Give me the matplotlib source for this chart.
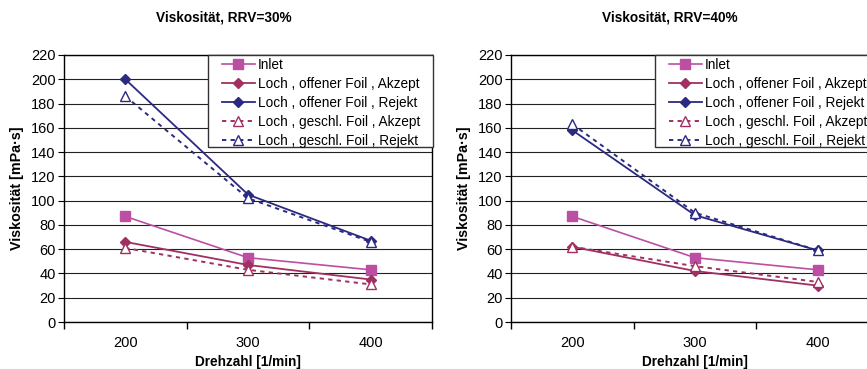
import numpy as np
import matplotlib.pyplot as plt
from matplotlib.patches import Rectangle

plt.rcParams["font.family"] = ["Liberation Sans", "DejaVu Sans"]

drehzahl = ["200", "300", "400"]

# RRV = 30 %
inlet_30 = [87, 53, 43]
offen_akzept_30 = [66, 47, 35]
offen_rejekt_30 = [200, 105, 67]
geschl_akzept_30 = [61, 43, 31]
geschl_rejekt_30 = [186, 102, 66]

# RRV = 40 %
inlet_40 = [87, 53, 43]
offen_akzept_40 = [62, 42, 30]
offen_rejekt_40 = [158, 88, 59]
geschl_akzept_40 = [62, 46, 33]
geschl_rejekt_40 = [163, 90, 59]

labels = [
    "Inlet",
    "Loch , offener Foil , Akzept",
    "Loch , offener Foil , Rejekt",
    "Loch , geschl. Foil , Akzept",
    "Loch , geschl. Foil , Rejekt",
]

PINK = "#BC4FA4"
ROSE = "#A03062"
NAVY = "#2A2A80"

styles = [
    dict(color=PINK, marker="s", ms=6.5, ls="-", lw=1.2),
    dict(color=ROSE, marker="D", ms=5.5, ls="-", lw=1.3),
    dict(color=NAVY, marker="D", ms=5.5, ls="-", lw=1.3),
    dict(color=ROSE, marker="^", ms=7, ls=(0, (2.2, 2.2)), lw=1.4, mfc="white"),
    dict(color=NAVY, marker="^", ms=7, ls=(0, (2.2, 2.2)), lw=1.4, mfc="white"),
]

fig = plt.figure(figsize=(8.67, 3.69), dpi=100)

W, H = 867, 369


def draw_panel(left_px, series, title, title_x):
    ax = fig.add_axes([left_px / W, 47 / H, 368 / W, 267 / H])
    x = np.arange(len(drehzahl))
    for values, label, st in zip(series, labels, styles):
        ax.plot(x, values, label=label, color=st["color"], marker=st["marker"],
                markersize=st["ms"], linestyle=st["ls"], linewidth=st["lw"],
                markerfacecolor=st.get("mfc", st["color"]),
                markeredgecolor=st["color"], markeredgewidth=1.0,
                zorder=3)

    ax.set_xlim(-0.5, 2.5)
    ax.set_ylim(0, 220)
    ax.set_yticks(range(0, 221, 20))
    ax.yaxis.grid(True, color="#222222", linewidth=0.8)
    ax.set_axisbelow(True)

    ax.set_xticks([-0.5, 0.5, 1.5, 2.5])
    ax.set_xticklabels([])
    ax.set_xticks(x, minor=True)
    ax.set_xticklabels(drehzahl, minor=True)
    ax.tick_params(axis="x", which="minor", length=0, pad=10, labelsize=10.5)
    ax.tick_params(axis="x", which="major", length=5, direction="out", width=1)
    ax.tick_params(axis="y", length=4, direction="out", labelsize=10.5, pad=2)

    for sp in ax.spines.values():
        sp.set_linewidth(1.0)
        sp.set_color("black")

    ax.set_xlabel("Drehzahl [1/min]", fontsize=9.8, fontweight="bold", labelpad=4)
    ax.set_ylabel("Viskosität [mPa·s]", fontsize=10.3, fontweight="bold", labelpad=5)

    fig.text(title_x / W, 1 - 17 / H, title, ha="center", va="center",
             fontsize=9.8, fontweight="bold")

    # legend box: white frame in figure pixels, entries placed inside it
    box_left = left_px + 144
    ax.add_patch(Rectangle((box_left / W, 1 - 147 / H), 225 / W, 92 / H,
                           transform=fig.transFigure, facecolor="white",
                           edgecolor="#333333", linewidth=1.0, zorder=4,
                           clip_on=False))
    leg = ax.legend(loc="upper left",
                    bbox_to_anchor=((box_left + 14) / W, 1 - 58 / H),
                    bbox_transform=fig.transFigure,
                    fontsize=9.8, numpoints=1, handlelength=2.4,
                    handletextpad=0.25, labelspacing=0.36,
                    borderpad=0, borderaxespad=0, frameon=False)
    leg.set_zorder(5)
    return ax


draw_panel(64, [inlet_30, offen_akzept_30, offen_rejekt_30,
                geschl_akzept_30, geschl_rejekt_30],
           "Viskosität, RRV=30%", 224)
draw_panel(511, [inlet_40, offen_akzept_40, offen_rejekt_40,
                 geschl_akzept_40, geschl_rejekt_40],
           "Viskosität, RRV=40%", 670)

fig.savefig("out.png", dpi=100)
